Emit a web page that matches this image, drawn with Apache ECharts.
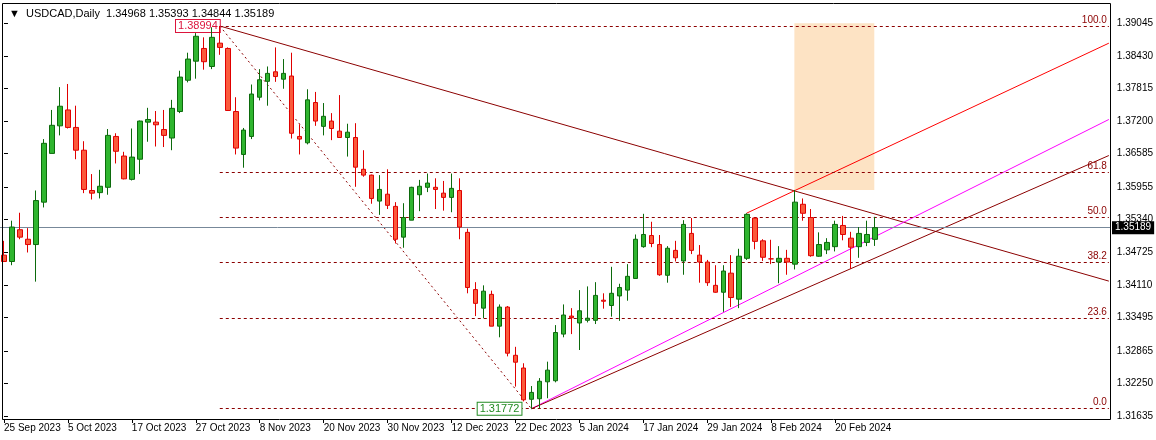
<!DOCTYPE html>
<html><head><meta charset="utf-8">
<script src="https://cdn.jsdelivr.net/npm/echarts@6/dist/echarts.min.js"></script>
<style>html,body{margin:0;padding:0;background:#fff}#c{width:1156px;height:440px}</style>
</head><body><div id="c"></div>
<script>
const symbolName = 'USDCAD,Daily';
const opens = [1.3467,1.3455,1.3515,1.3497,1.3487,1.3567,1.3659,1.3711,1.3741,1.3708,
1.3665,1.3589,1.3585,1.3595,1.3691,1.3654,1.3610,1.3648,1.3718,1.3718,
1.3704,1.3688,1.3738,1.3797,1.3833,1.3857,1.3823,1.3867,1.3857,1.3738,
1.3657,1.3691,1.3765,1.3795,1.3813,1.3799,1.3805,1.3691,1.3679,1.3755,
1.3710,1.3720,1.3701,1.3689,1.3689,1.3629,1.3618,1.3569,1.3582,1.3559,
1.3501,1.3533,1.3581,1.3595,1.3595,1.3584,1.3576,1.3589,1.3510,1.3402,
1.3367,1.3393,1.3333,1.3369,1.3278,1.3254,1.3195,1.3196,1.3228,1.3230,
1.3318,1.3352,1.3339,1.3344,1.3344,1.3382,1.3372,1.3390,1.3401,1.3423,
1.3483,1.3504,1.3487,1.3429,1.3476,1.3456,1.3508,1.3467,1.3454,1.3410,
1.3397,1.3433,1.3384,1.3461,1.3537,1.3494,1.3460,1.3454,1.3461,1.3450,
1.3563,1.3538,1.3465,1.3477,1.3483,1.3523,1.3499,1.3483,1.3491,1.34968];
const highs = [1.3494,1.3532,1.3547,1.3518,1.3589,1.3686,1.3741,1.3784,1.3790,1.3749,
1.3682,1.3620,1.3628,1.3705,1.3697,1.3662,1.3706,1.3721,1.3745,1.3739,
1.3741,1.3760,1.3815,1.3849,1.3886,1.3878,1.3897,1.38994,1.3859,1.3765,
1.3707,1.3789,1.3818,1.3823,1.3859,1.3837,1.3849,1.3714,1.3780,1.3775,
1.3754,1.3735,1.3769,1.3715,1.3716,1.3665,1.3619,1.3618,1.3629,1.3567,
1.3565,1.3596,1.3609,1.3621,1.3612,1.3607,1.3621,1.3612,1.3517,1.3416,
1.3410,1.3400,1.3374,1.3371,1.3294,1.3263,1.3220,1.3235,1.3266,1.3335,
1.3374,1.3367,1.3401,1.3408,1.3416,1.3395,1.3445,1.3413,1.3450,1.3506,
1.3545,1.3530,1.3505,1.3484,1.3494,1.3533,1.3537,1.3486,1.3458,1.3448,
1.3448,1.3467,1.3479,1.3546,1.3538,1.3497,1.3496,1.3484,1.3477,1.3590,
1.3574,1.3554,1.3510,1.3499,1.3532,1.3541,1.3511,1.3520,1.3532,1.35393];
const lows = [1.3454,1.3448,1.3497,1.3472,1.3417,1.3557,1.3659,1.3693,1.3706,1.3648,
1.3584,1.3572,1.3574,1.3581,1.3640,1.3610,1.3608,1.3620,1.3681,1.3672,
1.3671,1.3665,1.3735,1.3793,1.3800,1.3817,1.3818,1.3845,1.3739,1.3657,
1.3632,1.3686,1.3759,1.3749,1.3794,1.3781,1.3687,1.3657,1.3676,1.3711,
1.3693,1.3684,1.3689,1.3653,1.3596,1.3615,1.3564,1.3543,1.3554,1.3489,
1.3481,1.3533,1.3550,1.3586,1.3554,1.3551,1.3548,1.3497,1.3395,1.3352,
1.3348,1.3333,1.3312,1.3276,1.3219,1.3191,1.31772,1.3178,1.3197,1.3227,
1.3312,1.3318,1.3288,1.3340,1.3337,1.3366,1.3351,1.3343,1.3381,1.3423,
1.3481,1.3482,1.3428,1.3415,1.3455,1.3430,1.3469,1.3415,1.3409,1.3396,
1.3360,1.3369,1.3367,1.3458,1.3478,1.3456,1.3450,1.3414,1.3430,1.3440,
1.3532,1.3464,1.3464,1.3469,1.3474,1.3495,1.3441,1.3462,1.3484,1.34844];
const closes = [1.3455,1.3520,1.3501,1.3487,1.3570,1.3678,1.3712,1.3748,1.3708,1.3665,
1.3591,1.3584,1.3597,1.3693,1.3663,1.3611,1.3652,1.3720,1.3723,1.3713,
1.3693,1.3744,1.3803,1.3837,1.3880,1.3832,1.3878,1.3859,1.3740,1.3669,
1.3703,1.3771,1.3798,1.3810,1.3804,1.3810,1.3697,1.3686,1.3760,1.3720,
1.3729,1.3706,1.3689,1.3699,1.3633,1.3618,1.3574,1.3591,1.3561,1.3497,
1.3538,1.3595,1.3597,1.3603,1.3591,1.3576,1.3593,1.3520,1.3406,1.3376,
1.3399,1.3333,1.3369,1.3282,1.3265,1.3194,1.3208,1.3229,1.3250,1.3321,
1.3354,1.3349,1.3362,1.3348,1.3391,1.3380,1.3395,1.3406,1.3427,1.3497,
1.3506,1.3489,1.3430,1.3480,1.3462,1.3525,1.3476,1.3454,1.3415,1.3397,
1.3437,1.3387,1.3465,1.3544,1.3493,1.3463,1.3460,1.3461,1.3454,1.3567,
1.3546,1.3466,1.3487,1.3491,1.3525,1.3506,1.3482,1.3508,1.3506,1.35189];
const dateLabels = ['25 Sep 2023','5 Oct 2023','17 Oct 2023','27 Oct 2023','8 Nov 2023','20 Nov 2023','30 Nov 2023','12 Dec 2023','22 Dec 2023','5 Jan 2024','17 Jan 2024','29 Jan 2024','8 Feb 2024','20 Feb 2024'];
const priceTicks = ['1.31635','1.32250','1.32865','1.33495','1.34110','1.34725','1.35340','1.35955','1.36585','1.37200','1.37815','1.38430','1.39045'];
const fibRatios = [0, 23.6, 38.2, 50.0, 61.8, 100.0];
const fibLow = 1.31772, fibHigh = 1.38994, fibLowIdx = 66, fibHighIdx = 27;
// trend lines: [x0, y0, x1, y1] in bar index / price
const downTrend = [27, 1.38994, 138.25, 1.3418];
const redChannel = [92.9, 1.3546, 138.25, 1.3867];
const magentaLine = [66, 1.31772, 138.25, 1.3723];
const maroonUp = [66, 1.31772, 138.25, 1.3655];
const zoneBox = [98.9, 1.39045, 108.9, 1.3590];

const nSlots = 139;
const cats = Array.from({length:nSlots},(_,i)=>String(i));
const candleData = opens.map((o,i)=>[o, closes[i], lows[i], highs[i]]);
const lastClose = closes[closes.length-1];
const FONT = 'Liberation Sans';

function seg(a, color, type, z){
  return {type:'line', xAxisIndex:1, yAxisIndex:0, data:[[a[0],a[1]],[a[2],a[3]]], symbol:'none', silent:true,
    lineStyle:{color, width:1, type}, z:z||3, animation:false};
}
const fibLines = fibRatios.map(r=>{
  const p = fibLow + (fibHigh-fibLow)*r/100;
  return [{coord:[fibHighIdx, p], label:{formatter:r.toFixed(1)}},{coord:[138.25, p]}];
});

const chart = echarts.init(document.getElementById('c'));
chart.setOption({
  animation:false,
  title:{text:'\u25BC  '+symbolName+'  '+[opens.at(-1),highs.at(-1),lows.at(-1),closes.at(-1)].map(v=>v.toFixed(5)).join(' '),
    left:4, top:3, textStyle:{fontFamily:FONT, fontSize:11, fontWeight:'normal', color:'#000'}},
  grid:{left:0, top:3, width:1112, height:416},
  xAxis:[{type:'category', data:cats, boundaryGap:true, axisLine:{show:false},
      axisTick:{show:true, length:4, interval:(i)=>i%8===0 && i/8<dateLabels.length, lineStyle:{color:'#000'}, alignWithLabel:true},
      axisLabel:{interval:(i)=>i%8===0 && i/8<dateLabels.length, formatter:(v,i)=>dateLabels[i/8]||'', align:'left', margin:4,
        fontFamily:FONT, fontSize:10, color:'#000'}, splitLine:{show:false}},
    {type:'value', min:-0.5, max:138.5, show:false}],
  yAxis:{type:'value', position:'right', min:1.31578, max:1.39428, scale:true,
    axisLine:{show:false}, splitLine:{show:false},
    axisTick:{show:true, length:4, customValues:priceTicks.map(Number), lineStyle:{color:'#000'}},
    axisLabel:{customValues:priceTicks.map(Number), formatter:(v)=>{const s=priceTicks.find(t=>Math.abs(Number(t)-v)<1e-6); return s||v.toFixed(5);},
      margin:6, fontFamily:FONT, fontSize:10, color:'#000'}},
  graphic:[{type:'rect', shape:{x:2.5,y:3.5,width:1108,height:416}, style:{fill:null, stroke:'#000', lineWidth:1}, z:100}],
  series:[
    {type:'candlestick', data:candleData, barWidth:5, z:5,
      itemStyle:{color:'#2fb52f', color0:'#fb5a3c', borderColor:'#0c6a0c', borderColor0:'#e00000', borderWidth:1},
      markLine:{symbol:'none', silent:true, lineStyle:{color:'#778899', type:'solid', width:1},
        label:{position:'end', formatter:lastClose.toFixed(5), backgroundColor:'#000', color:'#fff', padding:[2,3,1,3],
          fontFamily:FONT, fontSize:10, distance:2},
        data:[[{coord:['0', lastClose], x:0},{coord:['138', lastClose], x:1110}]]},
      markPoint:{symbol:'rect', symbolSize:0, silent:true, data:[
        {coord:[fibHighIdx, fibHigh], label:{show:true, position:'left', distance:0, formatter:fibHigh.toFixed(5), color:'#dc143c',
          borderColor:'#dc143c', borderWidth:1, backgroundColor:'#fff', padding:[1,2,0,2], fontFamily:FONT, fontSize:11}},
        {coord:[fibLowIdx, fibLow], label:{show:true, position:'left', distance:10, formatter:fibLow.toFixed(5), color:'#228b22',
          borderColor:'#228b22', borderWidth:1, backgroundColor:'#fff', padding:[1,2,0,2], fontFamily:FONT, fontSize:11}}]}
    },
    {type:'line', xAxisIndex:1, data:[], symbol:'none', silent:true,
      markLine:{symbol:'none', silent:true, lineStyle:{color:'#8b0000', type:[3,3], width:1},
        label:{position:'insideEndTop', color:'#8b0000', fontFamily:FONT, fontSize:10, distance:[2,1]},
        data:fibLines},
      markArea:{silent:true, itemStyle:{color:'#fde3c4'}, data:[[{coord:[zoneBox[0], zoneBox[1]]},{coord:[zoneBox[2], zoneBox[3]]}]]},
      z:1},
    seg([fibHighIdx, fibHigh, fibLowIdx, fibLow], '#8b0000', [2,3], 3),
    seg(downTrend, '#8b0000', 'solid', 3),
    seg(redChannel, '#ff0000', 'solid', 3),
    seg(magentaLine, '#ff00ff', 'solid', 3),
    seg(maroonUp, '#8b0000', 'solid', 3)
  ]
});
</script></body></html>
